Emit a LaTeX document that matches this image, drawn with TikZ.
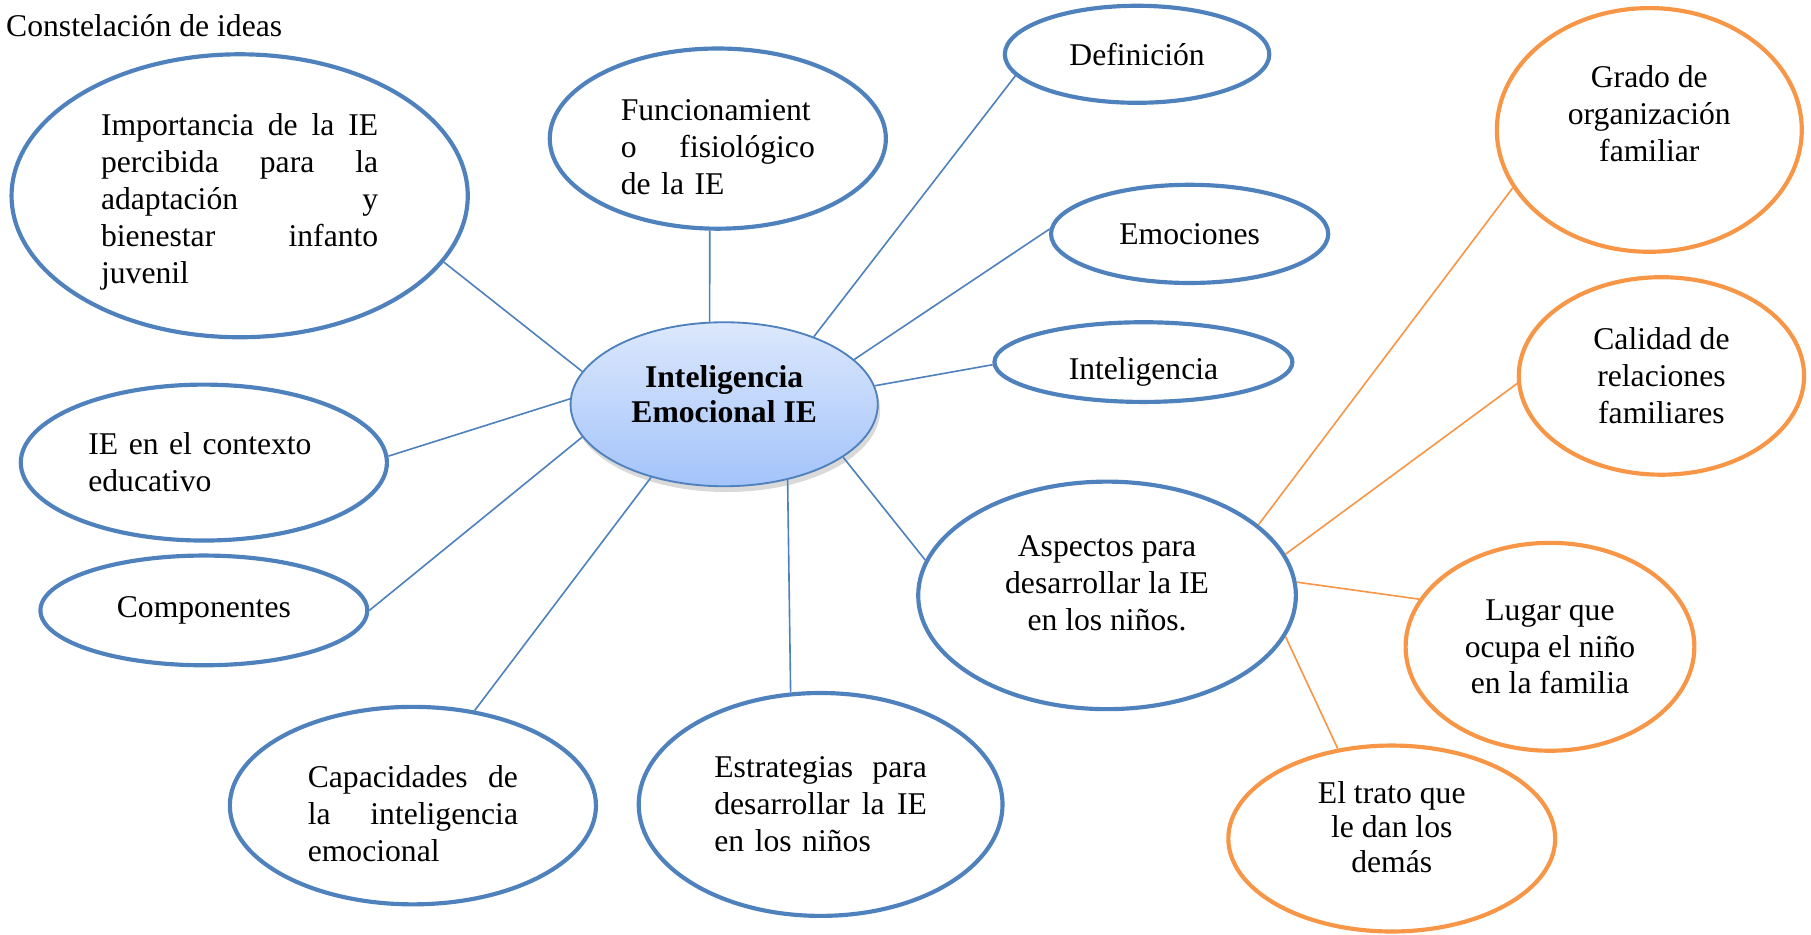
\documentclass[tikz,border=0pt]{standalone}
\usepackage{fontspec}
\setmainfont{Liberation Serif}
\usetikzlibrary{shapes.geometric,shadows}
\definecolor{ieblue}{RGB}{79,129,189}
\definecolor{ieorange}{RGB}{247,150,70}
\definecolor{ietop}{RGB}{220,232,252}
\definecolor{iebottom}{RGB}{163,195,250}
\begin{document}
\begin{tikzpicture}[x=0.5pt,y=-0.5pt,
        font=\fontsize{13.7}{16}\selectfont,
        idea/.style={ellipse,draw=ieblue,line width=1.8pt,inner sep=0pt,align=center},
        family/.style={idea,draw=ieorange},
        link/.style={ieblue,line width=0.7pt},
        flink/.style={ieorange,line width=0.7pt}]
        \useasboundingbox (0,0) rectangle (1568,809);
        \node [anchor=west,inner sep=0pt] (title) at (5,22) {Constelación de ideas};
        % centro
        \node [ellipse,draw=ieblue,line width=0.8pt,top color=ietop,bottom color=iebottom,
            drop shadow={opacity=0.3,shadow xshift=1pt,shadow yshift=-2.5pt},
            minimum width=133pt,minimum height=71pt,inner sep=0pt,align=center,
            font=\fontsize{13.7}{15}\selectfont\bfseries] (ie) at (627,350) {Inteligencia\\Emocional IE\rule[-9pt]{0pt}{9pt}};
        % ideas
        \node [idea,minimum width=197.5pt,minimum height=122.5pt,text width=120pt,align=left] (imp) at (207.5,169.5)
            {\rule{0pt}{14.5pt}Importancia\hfill de\hfill la\hfill IE\\percibida\hfill para\hfill la\\adaptación\hfill y\\bienestar\hfill infanto\\juvenil};
        \node [idea,minimum width=145.5pt,minimum height=78pt,text width=84pt,align=left] (fun) at (621.5,120)
            {\rule{0pt}{16.5pt}Funcionamient\\o\hfill fisiológico\\de la IE};
        \node [idea,minimum width=114.5pt,minimum height=42pt] (def) at (984.5,47) {Definición};
        \node [idea,minimum width=120pt,minimum height=42.5pt] (emo) at (1030,202.5) {Emociones};
        \node [idea,minimum width=129pt,minimum height=34.5pt,text height=15pt,text depth=0pt] (int) at (990,313.5) {Inteligencia};
        \node [idea,minimum width=158.5pt,minimum height=67.5pt,text width=100pt,align=left] (ctx) at (176.5,400.5)
            {IE en el contexto\\educativo};
        \node [idea,minimum width=141.5pt,minimum height=47.5pt] (com) at (176.5,528.5) {Componentes};
        \node [idea,minimum width=158.5pt,minimum height=85.5pt,text width=91pt,align=left] (cap) at (357.5,697.5)
            {\rule{0pt}{16.5pt}Capacidades\hfill de\\la\hfill inteligencia\\emocional};
        \node [idea,minimum width=157.5pt,minimum height=96.5pt,text width=92pt,align=left] (est) at (710.5,696.5)
            {Estrategias\hfill para\\desarrollar\hfill la\hfill IE\\en los niños};
        \node [idea,minimum width=163.5pt,minimum height=98.5pt] (asp) at (958.5,515.5)
            {Aspectos para\\desarrollar la IE\\en los niños.\rule[-11pt]{0pt}{11pt}};
        % familia
        \node [family,minimum width=132pt,minimum height=105.5pt] (gra) at (1428,112.5)
            {Grado de\\organización\\familiar\rule[-14pt]{0pt}{14pt}};
        \node [family,minimum width=123.5pt,minimum height=85.5pt] (cal) at (1438.5,325.5) {Calidad de\\relaciones\\familiares};
        \node [family,minimum width=125pt,minimum height=90pt] (lug) at (1342,560) {Lugar que\\ocupa el niño\\en la familia};
        \node [family,minimum width=141.5pt,minimum height=80.5pt,font=\fontsize{13.7}{15}\selectfont] (tra) at (1205,726)
            {El trato que\\le dan los\\demás\rule[-10pt]{0pt}{10pt}};
        % lineas
        \draw [link] (imp.-18.7) -- (ie.167.1);
        \draw [link] (fun.-95.4) -- (ie.100.2);
        \draw [link] (def.-170.4) -- (ie.37.7);
        \draw [link] (emo.178.3) -- (ie.19.8);
        \draw [link] (int.181.1) -- (ie.7.7);
        \draw [link] (ctx.2) -- (ie.178.7);
        \draw [link] (com.0) -- (ie.193.5);
        \draw [link] (cap.57.8) -- (ie.225.5);
        \draw [link] (est.105.5) -- (ie.-50.1);
        \draw [link] (asp.169.3) -- (ie.-24.4);
        \draw [flink] (asp.25.1) -- (gra.203.2);
        \draw [flink] (asp.13.5) -- (cal.183.5);
        \draw [flink] (asp.4) -- (lug.160.6);
        \draw [flink] (asp.-13.4) -- (tra.121.8);
\end{tikzpicture}
\end{document}
